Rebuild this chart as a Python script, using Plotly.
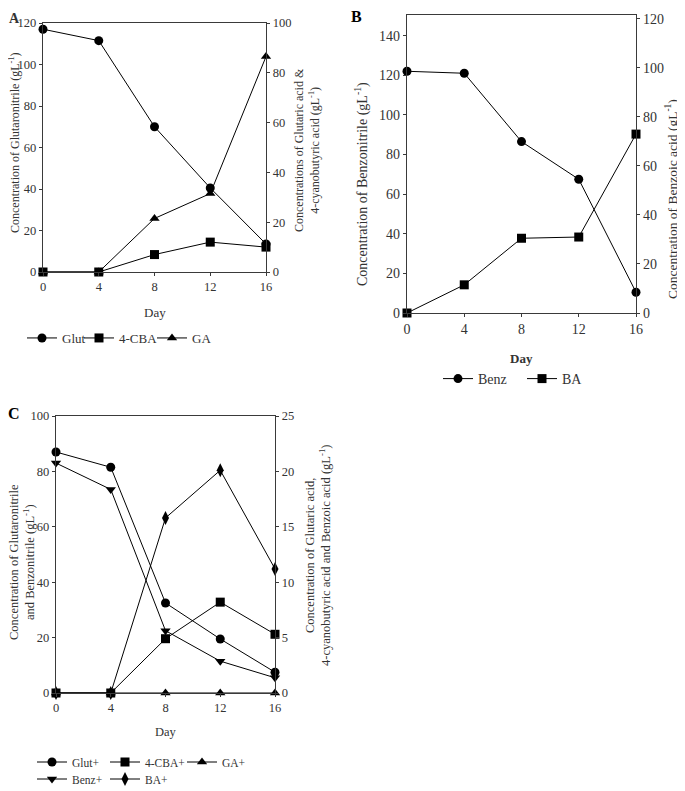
import plotly.graph_objects as go

# the page body has an 8px margin, so the figure is shifted by that much
OX, OY = 8, 8
W, H = 685 - OX, 791 - OY

days = [0, 4, 8, 12, 16]

# panel A
glut = [117, 111.5, 70, 40.5, 13.5]
cba = [0, 0, 7, 12, 10]
ga = [0, 0, 21.5, 31.5, 86.5]

# panel B
benz = [122, 121, 86.5, 67.5, 10.5]
ba = [0, 11.5, 30.5, 31, 73]

# panel C
glut_c = [87, 81.5, 32.5, 19.5, 7.5]
benz_c = [83, 73.5, 22.5, 11.5, 5.5]
cba_c = [0, 0, 4.9, 8.2, 5.3]
ga_c = [0, 0, 0, 0, 0]
ba_c = [0, 0, 15.8, 20.1, 11.2]

SERIF = "Liberation Serif"
AXC = "#3a3a3a"
TXT = "#333333"


def fx(p):
    return (p - OX) / W


def fy(p):
    return 1 - (p - OY) / H


def trace(x, y, name, symbol, xa, ya, legend, size=9):
    return go.Scatter(x=x, y=y, name=name, mode="lines+markers",
                      xaxis=xa, yaxis=ya, legend=legend, cliponaxis=False,
                      line=dict(color="black", width=1),
                      marker=dict(symbol=symbol, size=size, color="black"))


data = [
    trace(days, glut, "Glut", "circle", "x", "y", "legend"),
    trace(days, cba, "4-CBA", "square", "x", "y2", "legend2"),
    trace(days, ga, "GA", "triangle-up", "x", "y2", "legend3"),
    trace(days, benz, "Benz", "circle", "x2", "y3", "legend4"),
    trace(days, ba, "BA", "square", "x2", "y4", "legend5"),
    trace(days, glut_c, "Glut+", "circle", "x3", "y5", "legend6"),
    trace(days, cba_c, "4-CBA+", "square", "x3", "y6", "legend7"),
    trace(days, ga_c, "GA+", "triangle-up", "x3", "y6", "legend8"),
    trace(days, benz_c, "Benz+", "triangle-down", "x3", "y5", "legend9"),
    trace(days, ba_c, "BA+", "diamond-tall", "x3", "y6", "legend10", size=10),
]

fig = go.Figure(data=data)


def axis_common(fs):
    return dict(showline=True, linecolor=AXC, linewidth=1.3, ticks="outside",
                ticklen=3, tickcolor=AXC, showgrid=False, zeroline=False,
                automargin=False,
                tickfont=dict(family=SERIF, size=fs, color=TXT))


def xaxis(x0, x1, y, fs):
    return dict(axis_common(fs), domain=[fx(x0), fx(x1)], range=[0, 16],
                tickvals=days, anchor=y, mirror=True)


def yaxis(top, bottom, x, rng, dtick, fs, side="left", over=None):
    d = dict(axis_common(fs), domain=[fy(bottom), fy(top)], range=rng,
             dtick=dtick, anchor=x, side=side)
    if over:
        d["overlaying"] = over
    return d


def legend(mx, my, fs):
    # marker centre sits ~21px right of the legend's left edge
    return dict(orientation="h", font=dict(family=SERIF, size=fs, color=TXT),
                bgcolor="rgba(0,0,0,0)", xanchor="left", yanchor="middle",
                itemwidth=30, x=fx(mx - 21), y=fy(my))


fig.update_layout(
    template="none", showlegend=True,
    width=W, height=H, margin=dict(l=0, r=0, t=0, b=0, autoexpand=False),
    paper_bgcolor="white", plot_bgcolor="white",
    font=dict(family=SERIF, size=12, color=TXT),
    xaxis=xaxis(43, 266, "y", 12.5),
    yaxis=yaxis(23, 272, "x", [0, 120], 20, 12.5),
    yaxis2=yaxis(23, 272, "x", [0, 100], 20, 12.5, "right", "y"),
    xaxis2=xaxis(407, 636, "y3", 14),
    yaxis3=yaxis(15, 313, "x2", [0, 150.4], 20, 14),
    yaxis4=yaxis(15, 313, "x2", [0, 121.6], 20, 14, "right", "y3"),
    xaxis3=xaxis(56, 275, "y5", 12.5),
    yaxis5=yaxis(416, 693, "x3", [0, 100], 20, 12.5),
    yaxis6=yaxis(416, 693, "x3", [0, 25], 5, 12.5, "right", "y5"),
    legend=legend(43, 338, 13),
    legend2=legend(100, 338, 13),
    legend3=legend(173, 338, 13),
    legend4=legend(459, 379, 14),
    legend5=legend(543, 379, 14),
    legend6=legend(53, 762, 11.5),
    legend7=legend(126, 762, 11.5),
    legend8=legend(203, 762, 11.5),
    legend9=legend(53, 779, 11.5),
    legend10=legend(126, 779, 11.5),
)

notes = [
    # panel letters
    (14, 18, "<b>A</b>", 0, 14),
    (356, 17, "<b>B</b>", 0, 16),
    (14, 413, "<b>C</b>", 0, 16),
    # x titles
    (155, 312, "Day", 0, 13),
    (521, 358, "<b>Day</b>", 0, 13),
    (166, 732, "Day", 0, 12.5),
    # y titles
    (14, 143, "Concentration of Glutaronitrile (gL<sup>-1</sup>)", -90, 12),
    (307, 150, "Concentrations of Glutaric acid &amp;<br>4-cyanobutyric acid (gL<sup>-1</sup>)", -90, 12),
    (362, 184, "Concentration of Benzonitrile (gL<sup>-1</sup>)", -90, 14),
    (671, 199, "Concentration of Benzoic acid (gL<sup>-1</sup>)", -90, 13.5),
    (22, 562, "Concentration of Glutaronitrile<br>and Benzonitrile (gL<sup>-1</sup>)", -90, 12.5),
    (318, 556, "Concentration of Glutaric acid,<br>4-cyanobutyric acid and Benzoic acid (gL<sup>-1</sup>)", -90, 12.5),
]
for x, y, t, ang, sz in notes:
    fig.add_annotation(x=fx(x), y=fy(y), xref="paper", yref="paper", text=t,
                       textangle=ang, showarrow=False, xanchor="center", yanchor="middle",
                       font=dict(family=SERIF, size=sz, color="black" if sz > 14 else TXT))

fig.write_html("out.html")
